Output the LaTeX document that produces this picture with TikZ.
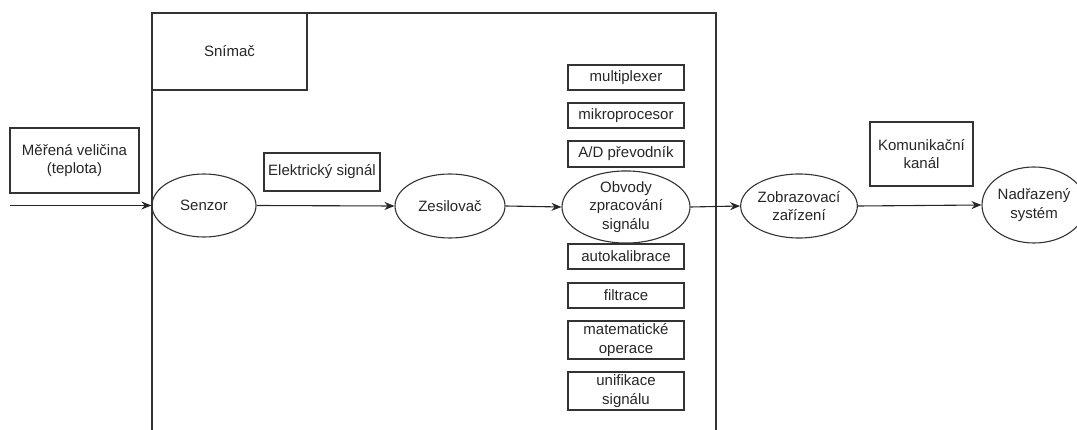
\documentclass[tikz,border=0pt]{standalone}
\usepackage{fontspec}
\setmainfont{Liberation Sans}
\usetikzlibrary{shapes.geometric,arrows.meta}
\begin{document}
\begin{tikzpicture}[x=1pt,y=-1pt,
  every node/.style={font=\fontsize{15}{18.5}\selectfont, text=black!85, align=center, inner sep=0pt},
  box/.style={draw=black!80, line width=1.1pt, rectangle},
  ell/.style={draw=black!80, line width=1.1pt, ellipse},
  conn/.style={draw=black!85, line width=1.1pt, -{Stealth[length=10pt,width=8pt]}},
  frame/.style={draw=black!80, line width=1.2pt}]
\useasboundingbox (0,0) rectangle (1077,430);
\clip (0,0) rectangle (1077,430);
% frame
\coordinate (fbl) at (152,430);
\coordinate (ftl) at (152,13);
\coordinate (ftr) at (716,13);
\coordinate (fbr) at (716,430);
\draw[frame] (fbl) -- (ftl) -- (ftr) -- (fbr);
% boxes
\node[box, minimum width=155pt, minimum height=77pt] (snimac) at (229.5,51.5) {Snímač};
\node[box, minimum width=129pt, minimum height=65pt] (mer) at (74.5,160.5) {Měřená veličina\\(teplota)};
\node[box, minimum width=116pt, minimum height=38pt] (elsig) at (322,172) {Elektrický signál};
\node[box, minimum width=103pt, minimum height=64pt] (kom) at (921.5,154) {Komunikační\\kanál};
\node[box, minimum width=116pt, minimum height=25pt] (mux) at (626,77.5) {multiplexer};
\node[box, minimum width=116pt, minimum height=25pt] (mcu) at (626,115.5) {mikroprocesor};
\node[box, minimum width=116pt, minimum height=26pt] (adc) at (626,154) {A/D převodník};
\node[box, minimum width=116pt, minimum height=25pt] (akal) at (626,256.5) {autokalibrace};
\node[box, minimum width=116pt, minimum height=25pt] (filt) at (626,295.5) {filtrace};
\node[box, minimum width=116pt, minimum height=38pt] (mat) at (626,340) {matematické\\operace};
\node[box, minimum width=116pt, minimum height=38pt] (unif) at (626,391) {unifikace\\signálu};
% ellipses
\node[ell, minimum width=104pt, minimum height=63pt] (senzor) at (204,205.5) {Senzor};
\node[ell, minimum width=110pt, minimum height=64pt] (zes) at (450,206) {Zesilovač};
\node[ell, minimum width=128pt, minimum height=62pt] (obv) at (626,207) {Obvody\\zpracování\\signálu};
\node[ell, minimum width=116pt, minimum height=64pt] (zob) at (799,206) {Zobrazovací\\zařízení};
\node[ell, minimum width=104pt, minimum height=76pt] (nad) at (1034,205) {Nadřazený\\systém};
% connectors
\coordinate (in) at (10,205.5);
\draw[conn] (in) -- (senzor.west);
\draw[conn] (senzor.east) -- (zes.west);
\draw[conn] (zes.east) -- (obv.west);
\draw[conn] (obv.east) -- (zob.west);
\draw[conn] (zob.east) -- (nad.west);
\end{tikzpicture}
\end{document}
